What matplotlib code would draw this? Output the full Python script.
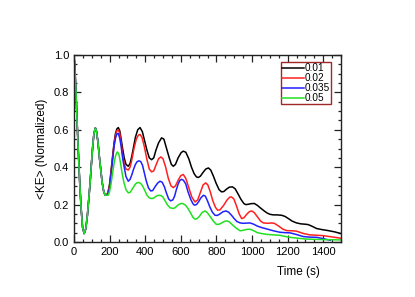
import matplotlib
matplotlib.use("Agg")
import matplotlib.pyplot as plt
from matplotlib.ticker import MultipleLocator, FormatStrFormatter

plt.rcParams['font.family'] = ['Liberation Sans', 'DejaVu Sans']

# common early part (all runs coincide)
t_common = [0, 6, 12, 18, 24, 32, 40, 48, 57, 66, 75, 83, 90, 98, 105, 112, 120, 127,
            135, 143, 150, 158, 167, 175, 184]
v_common = [1.0, 0.91, 0.78, 0.63, 0.49, 0.32, 0.18, 0.08, 0.045, 0.07, 0.14, 0.23, 0.31,
            0.42, 0.51, 0.58, 0.61, 0.59, 0.53, 0.45, 0.39, 0.32, 0.27, 0.25, 0.25]

t_001 = [192, 200, 208, 217, 225, 233, 241, 249, 257, 265, 273, 282, 292, 305, 315, 325,
         335, 345, 358, 371, 384, 397, 410, 423, 436, 448, 460, 475, 492, 505, 520, 535,
         547, 558, 570, 585, 602, 614, 628, 645, 660, 675, 688, 698, 710, 725, 740, 755,
         768, 782, 798, 815, 829, 842, 856, 872, 890, 905, 920, 938, 955, 965, 980, 995,
         1013, 1030, 1050, 1070, 1085, 1101, 1120, 1140, 1166, 1185, 1205, 1225, 1250,
         1275, 1300, 1316, 1340, 1363, 1395, 1428, 1465, 1500]
v_001 = [0.27, 0.31, 0.38, 0.46, 0.53, 0.58, 0.605, 0.612, 0.595, 0.55, 0.50, 0.45, 0.415,
         0.405, 0.42, 0.46, 0.51, 0.56, 0.60, 0.612, 0.59, 0.54, 0.49, 0.45, 0.44, 0.45,
         0.49, 0.53, 0.557, 0.55, 0.50, 0.45, 0.415, 0.405, 0.415, 0.45, 0.478, 0.486,
         0.48, 0.445, 0.40, 0.365, 0.348, 0.345, 0.352, 0.372, 0.39, 0.396, 0.385, 0.355,
         0.315, 0.28, 0.268, 0.27, 0.282, 0.293, 0.295, 0.285, 0.26, 0.228, 0.205, 0.20,
         0.202, 0.205, 0.206, 0.196, 0.18, 0.165, 0.155, 0.148, 0.145, 0.145, 0.143, 0.137,
         0.125, 0.112, 0.102, 0.097, 0.095, 0.093, 0.083, 0.072, 0.066, 0.061, 0.054, 0.045]

t_002 = [192, 200, 208, 217, 225, 233, 241, 249, 257, 265, 273, 282, 292, 305, 315, 325,
         337, 350, 362, 371, 382, 395, 410, 423, 436, 448, 460, 475, 488, 500, 515, 530,
         545, 558, 570, 585, 600, 614, 628, 645, 662, 680, 695, 710, 725, 740, 752, 765,
         780, 795, 807, 820, 840, 860, 875, 885, 898, 912, 928, 942, 955, 970, 985, 998,
         1012, 1030, 1048, 1064, 1090, 1110, 1125, 1150, 1175, 1195, 1225, 1250, 1290,
         1326, 1365, 1400, 1450, 1500]
v_002 = [0.27, 0.30, 0.37, 0.45, 0.52, 0.57, 0.595, 0.60, 0.58, 0.53, 0.47, 0.42, 0.39,
         0.385, 0.40, 0.44, 0.50, 0.55, 0.572, 0.575, 0.56, 0.51, 0.44, 0.39, 0.375, 0.38,
         0.41, 0.445, 0.455, 0.445, 0.40, 0.34, 0.30, 0.291, 0.30, 0.33, 0.355, 0.361,
         0.34, 0.29, 0.24, 0.214, 0.225, 0.265, 0.305, 0.316, 0.305, 0.27, 0.22, 0.185,
         0.17, 0.172, 0.195, 0.225, 0.24, 0.241, 0.23, 0.195, 0.15, 0.125, 0.13, 0.148,
         0.162, 0.166, 0.158, 0.135, 0.112, 0.102, 0.10, 0.102, 0.10, 0.085, 0.068, 0.061,
         0.06, 0.058, 0.045, 0.038, 0.036, 0.034, 0.027, 0.02]

t_0035 = [192, 200, 208, 217, 225, 233, 241, 249, 257, 265, 273, 282, 292, 305, 315, 325,
          335, 345, 355, 365, 375, 385, 395, 405, 418, 431, 442, 455, 470, 483, 495, 508,
          520, 532, 543, 555, 565, 575, 585, 595, 605, 615, 628, 640, 655, 668, 676, 688,
          700, 712, 727, 738, 750, 762, 777, 792, 805, 820, 837, 854, 868, 885, 900, 915,
          933, 950, 970, 989, 1010, 1030, 1055, 1082, 1120, 1157, 1185, 1213, 1250, 1288,
          1325, 1363, 1400, 1440]
v_0035 = [0.26, 0.29, 0.36, 0.44, 0.51, 0.555, 0.578, 0.58, 0.555, 0.51, 0.45, 0.40, 0.35,
          0.325, 0.335, 0.36, 0.39, 0.415, 0.43, 0.434, 0.43, 0.41, 0.37, 0.33, 0.29, 0.273,
          0.275, 0.295, 0.315, 0.325, 0.32, 0.295, 0.26, 0.23, 0.22, 0.225, 0.245, 0.28,
          0.31, 0.33, 0.335, 0.33, 0.31, 0.27, 0.23, 0.205, 0.197, 0.20, 0.215, 0.235,
          0.25, 0.245, 0.22, 0.19, 0.16, 0.143, 0.142, 0.15, 0.162, 0.166, 0.16, 0.143,
          0.125, 0.11, 0.102, 0.10, 0.101, 0.102, 0.095, 0.085, 0.077, 0.07, 0.06, 0.052,
          0.05, 0.049, 0.04, 0.029, 0.026, 0.025, 0.018, 0.009]

t_005 = [192, 200, 208, 217, 225, 233, 243, 252, 260, 270, 280, 292, 305, 315, 325, 335,
         345, 355, 365, 375, 385, 398, 410, 423, 436, 448, 462, 475, 490, 500, 512, 525,
         540, 558, 570, 585, 598, 610, 625, 640, 655, 668, 680, 692, 705, 720, 736, 748,
         762, 780, 800, 815, 830, 845, 858, 872, 890, 910, 933, 947, 960, 975, 989, 1010,
         1030, 1055, 1082, 1120, 1157, 1185, 1213, 1260, 1300, 1350, 1400, 1450, 1500]
v_005 = [0.25, 0.27, 0.31, 0.37, 0.42, 0.46, 0.482, 0.47, 0.43, 0.37, 0.32, 0.28, 0.263,
         0.265, 0.28, 0.295, 0.31, 0.317, 0.318, 0.313, 0.30, 0.275, 0.25, 0.236, 0.232,
         0.235, 0.245, 0.25, 0.248, 0.24, 0.22, 0.198, 0.183, 0.179, 0.185, 0.198, 0.205,
         0.206, 0.198, 0.18, 0.155, 0.132, 0.122, 0.125, 0.138, 0.158, 0.166, 0.158, 0.14,
         0.115, 0.094, 0.095, 0.102, 0.11, 0.113, 0.108, 0.092, 0.075, 0.06, 0.062, 0.065,
         0.068, 0.068, 0.06, 0.05, 0.045, 0.041, 0.038, 0.036, 0.03, 0.025, 0.02, 0.016,
         0.014, 0.013, 0.012, 0.011]

labels = ["0.01", "0.02", "0.035", "0.05"]
colors = ["black", "#ff2020", "#2020ff", "#20e020"]
series_t = [t_001, t_002, t_0035, t_005]
series_v = [v_001, v_002, v_0035, v_005]

fig = plt.figure(figsize=(4.15, 2.97), dpi=100)
ax = fig.add_axes([74/415, 55/297, 267/415, 187/297])

for t, v, c, lab in zip(series_t, series_v, colors, labels):
    ax.plot(t_common + t, v_common + v, color=c, lw=1.1, label=lab)

ax.set_xlim(0, 1500)
ax.set_ylim(0, 1.0)
ax.xaxis.set_major_locator(MultipleLocator(200))
ax.xaxis.set_minor_locator(MultipleLocator(50))
ax.yaxis.set_major_locator(MultipleLocator(0.2))
ax.yaxis.set_minor_locator(MultipleLocator(0.05))
ax.yaxis.set_major_formatter(FormatStrFormatter('%.1f'))
ax.tick_params(which='both', direction='in', top=True, right=True, labelsize=8, color='#222222')
ax.tick_params(which='major', length=5, width=0.9)
ax.tick_params(which='minor', length=2.5, width=0.9)
for s in ax.spines.values():
    s.set_linewidth(1.0)
    s.set_color('#222222')

ax.set_xlabel("Time (s)", fontsize=8.5)
ax.xaxis.set_label_coords(0.84, -0.13)
ax.set_ylabel("<KE> (Normalized)", fontsize=8.5)

leg = ax.legend(loc='upper right', bbox_to_anchor=(0.963, 0.962), fontsize=7.2,
                handlelength=2.2, handletextpad=0.1, borderpad=0.1, labelspacing=0.0,
                fancybox=False, framealpha=1, borderaxespad=0)
leg.get_frame().set_edgecolor('#a02828')
leg.get_frame().set_linewidth(1.0)

fig.savefig("out.png", dpi=100)
